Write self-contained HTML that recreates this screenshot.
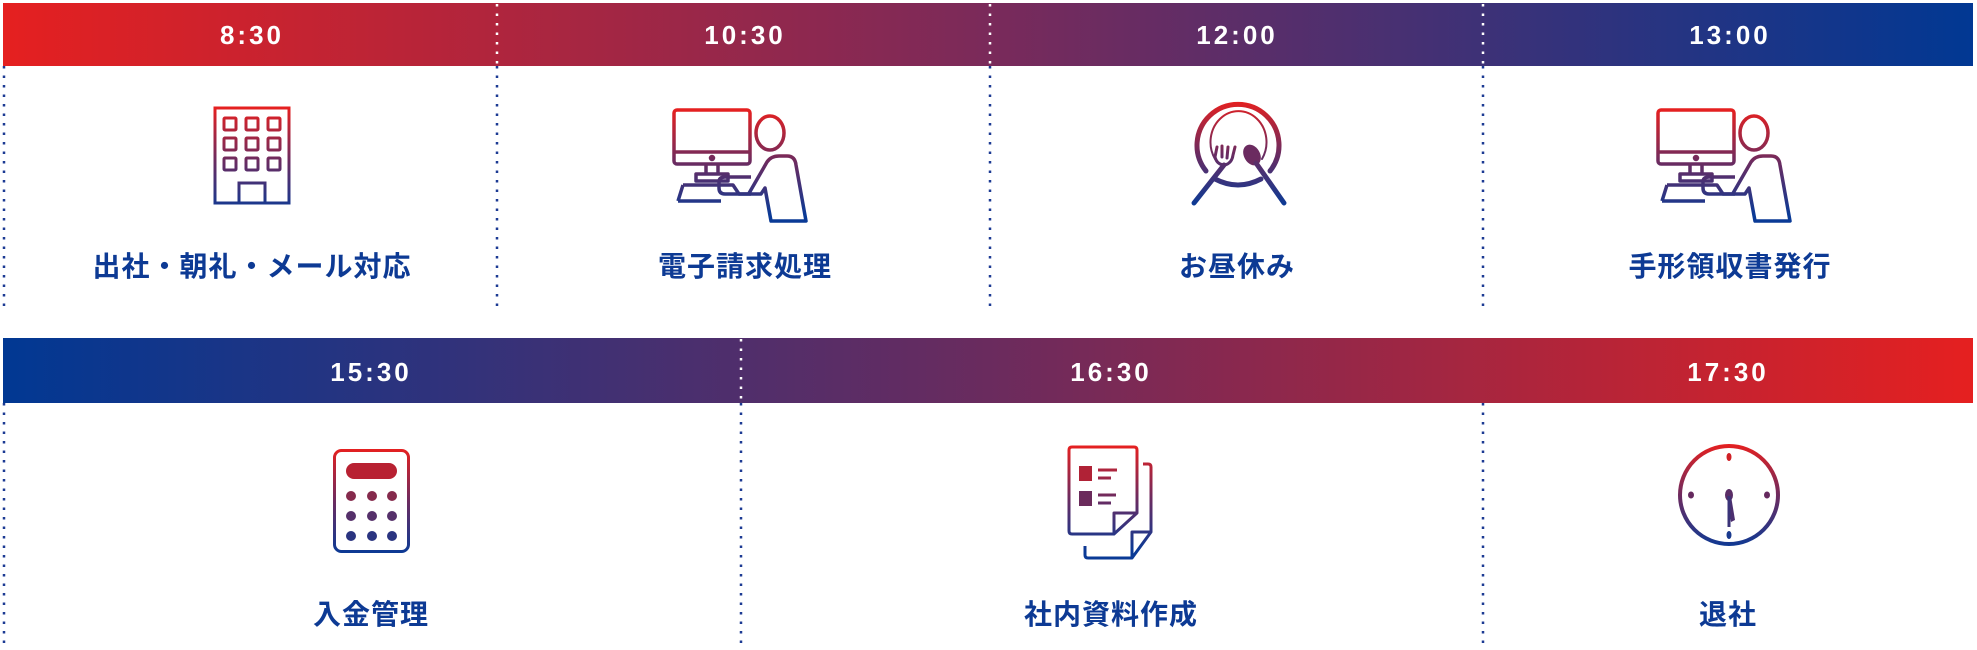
<!DOCTYPE html>
<html><head><meta charset="utf-8"><style>
html,body{margin:0;padding:0;background:#fff;}
svg{display:block;}
.h{font-family:"Liberation Sans","DejaVu Sans",sans-serif;font-weight:bold;font-size:26px;fill:#fff;letter-spacing:3px;text-anchor:middle;}
.l{font-family:"Liberation Sans","Noto Sans CJK JP",sans-serif;font-weight:bold;font-size:28px;fill:#0d3a94;letter-spacing:1px;text-anchor:middle;}
.d{stroke:#1c3a93;stroke-width:2.5;stroke-dasharray:2.5 7;}
.w{stroke:#fff;stroke-width:2.5;stroke-dasharray:2.5 7;}
</style></head><body>
<svg width="1977" height="650" viewBox="0 0 1977 650" xmlns="http://www.w3.org/2000/svg">
<defs>
<linearGradient id="g1" x1="0" x2="1" y1="0" y2="0"><stop offset="0" stop-color="#e52020"/><stop offset="0.5" stop-color="#7a2a5a"/><stop offset="1" stop-color="#013893"/></linearGradient>
<linearGradient id="g2" x1="0" x2="1" y1="0" y2="0"><stop offset="0" stop-color="#013893"/><stop offset="0.5" stop-color="#6a2b5e"/><stop offset="1" stop-color="#e52020"/></linearGradient>
<linearGradient id="iv" gradientUnits="userSpaceOnUse" x1="0" y1="0" x2="0" y2="105"><stop offset="0" stop-color="#e52020"/><stop offset="0.5" stop-color="#6b2b60"/><stop offset="1" stop-color="#0a3a96"/></linearGradient>
</defs>
<rect x="3" y="3" width="1970" height="63" fill="url(#g1)"/>
<rect x="3" y="338" width="1970" height="65" fill="url(#g2)"/>
<text class="h" x="252" y="44">8:30</text>
<text class="h" x="745" y="44">10:30</text>
<text class="h" x="1237" y="44">12:00</text>
<text class="h" x="1730" y="44">13:00</text>
<text class="h" x="371" y="381">15:30</text>
<text class="h" x="1111" y="381">16:30</text>
<text class="h" x="1728" y="381">17:30</text>
<line class="d" x1="4" y1="66" x2="4" y2="306"/>
<line class="w" x1="497" y1="4" x2="497" y2="66"/><line class="d" x1="497" y1="66" x2="497" y2="306"/>
<line class="w" x1="990" y1="4" x2="990" y2="66"/><line class="d" x1="990" y1="66" x2="990" y2="306"/>
<line class="w" x1="1483" y1="4" x2="1483" y2="66"/><line class="d" x1="1483" y1="66" x2="1483" y2="306"/>
<line class="d" x1="4" y1="403" x2="4" y2="646"/>
<line class="w" x1="741" y1="339" x2="741" y2="403"/><line class="d" x1="741" y1="403" x2="741" y2="646"/>
<line class="d" x1="1483" y1="403" x2="1483" y2="646"/>
<text class="l" x="252" y="276">出社・朝礼・メール対応</text>
<text class="l" x="745" y="276">電子請求処理</text>
<text class="l" x="1237" y="276">お昼休み</text>
<text class="l" x="1730" y="276">手形領収書発行</text>
<text class="l" x="371" y="624">入金管理</text>
<text class="l" x="1111" y="624">社内資料作成</text>
<text class="l" x="1728" y="624">退社</text>
<g transform="translate(215,108)" fill="none" stroke="url(#iv)" stroke-width="3">
<rect x="0" y="0" width="74" height="95"/>
<rect x="9" y="10" width="12" height="12" rx="1"/><rect x="31" y="10" width="12" height="12" rx="1"/><rect x="53" y="10" width="12" height="12" rx="1"/>
<rect x="9" y="30" width="12" height="12" rx="1"/><rect x="31" y="30" width="12" height="12" rx="1"/><rect x="53" y="30" width="12" height="12" rx="1"/>
<rect x="9" y="50" width="12" height="12" rx="1"/><rect x="31" y="50" width="12" height="12" rx="1"/><rect x="53" y="50" width="12" height="12" rx="1"/>
<rect x="24" y="75" width="26" height="20"/>
</g>
<g id="pc" transform="translate(673,110)" fill="none" stroke="url(#iv)" stroke-width="3.5" stroke-linejoin="round">
<rect x="1" y="0" width="76" height="54" rx="3"/>
<line x1="1" y1="42" x2="77" y2="42"/>
<circle cx="39" cy="48" r="1.5" fill="#5a2d66"/>
<path d="M33 54 V64 M45 54 V64 M23 64 H55 V71 H23 Z"/>
<path d="M10 75 H60 L66 84 H78 M5 91 L10 75 M5 91 H48"/>
<ellipse cx="97" cy="23" rx="14" ry="17"/>
<path d="M75 85 L94 52 Q98 46 106 46 H114 Q122 46 123 55 L133 111 H98 L92 78 L88 84 H52 Q46 84 46 78 V72 Q46 67 52 67 H78"/>
</g>
<use href="#pc" transform="translate(984,0)"/>
<g transform="translate(1189,101)" fill="none" stroke="url(#iv)" stroke-linecap="round">
<path d="M17 70 A41 41 0 1 1 81 70" stroke-width="5"/>
<path d="M26 58 A28 31 0 1 1 73 58" stroke-width="2"/>
<path d="M26 78 Q49 90 72 78" stroke-width="5"/>
<path d="M35 64 L5 102" stroke-width="5"/>
<path d="M28 46 L26 56 Q28 64 36 64 Q43 62 44 54 L46 46 M33 45 L33 56 M39 46 L38 57" stroke-width="3"/>
<ellipse cx="63" cy="54" rx="8" ry="11" transform="rotate(-30 63 54)" fill="#6b2b60" stroke="none"/>
<path d="M67 62 L95 102" stroke-width="5"/>
</g>
<g transform="translate(333,449)" stroke="url(#iv)">
<rect x="1.5" y="1.5" width="74" height="101" rx="7" fill="none" stroke-width="3"/>
<rect x="13" y="14" width="51" height="16" rx="8" fill="#b82132" stroke="none"/>
<g stroke="none"><circle cx="18" cy="47" r="5" fill="#852a4c"/><circle cx="39" cy="47" r="5" fill="#852a4c"/><circle cx="59" cy="47" r="5" fill="#852a4c"/>
<circle cx="18" cy="67" r="5" fill="#55306a"/><circle cx="39" cy="67" r="5" fill="#55306a"/><circle cx="59" cy="67" r="5" fill="#55306a"/>
<circle cx="18" cy="87" r="5" fill="#2a3480"/><circle cx="39" cy="87" r="5" fill="#2a3480"/><circle cx="59" cy="87" r="5" fill="#2a3480"/></g>
</g>
<g transform="translate(1068,446)" fill="none" stroke="url(#iv)" stroke-width="3" stroke-linejoin="round">
<path d="M46 88 H4 Q1 88 1 85 V4 Q1 1 4 1 H66 Q69 1 69 4 V67 L46 88 V67 H69"/>
<path d="M75 18 H80 Q83 18 83 21 V86 L64 112 H20 Q17 112 17 109 V100 M64 112 V86 H83"/>
<rect x="11" y="20" width="13" height="15" fill="#b02236" stroke="none"/>
<rect x="11" y="45" width="13" height="15" fill="#6b2b5c" stroke="none"/>
<path d="M30 24 H49 M30 32 H43 M30 49 H48 M30 57 H43"/>
</g>
<g transform="translate(1678,444)" stroke="url(#iv)">
<circle cx="51" cy="51" r="49" fill="none" stroke-width="4"/>
<g stroke="none"><ellipse cx="51" cy="13" rx="2.5" ry="4" fill="#d02026"/><ellipse cx="13" cy="51" rx="3" ry="3.5" fill="#65295e"/><ellipse cx="89" cy="51" rx="3" ry="3.5" fill="#65295e"/><ellipse cx="51" cy="91" rx="2.5" ry="4" fill="#1a3a8e"/>
<ellipse cx="51" cy="51" rx="4" ry="6" fill="#5a2d66"/>
<path d="M49 52 L53 52 L57 76 L53 78 Z" fill="#4c2f6f"/>
<rect x="49.5" y="52" width="3" height="31" fill="#3a3378"/></g>
</g>
</svg>
</body></html>
